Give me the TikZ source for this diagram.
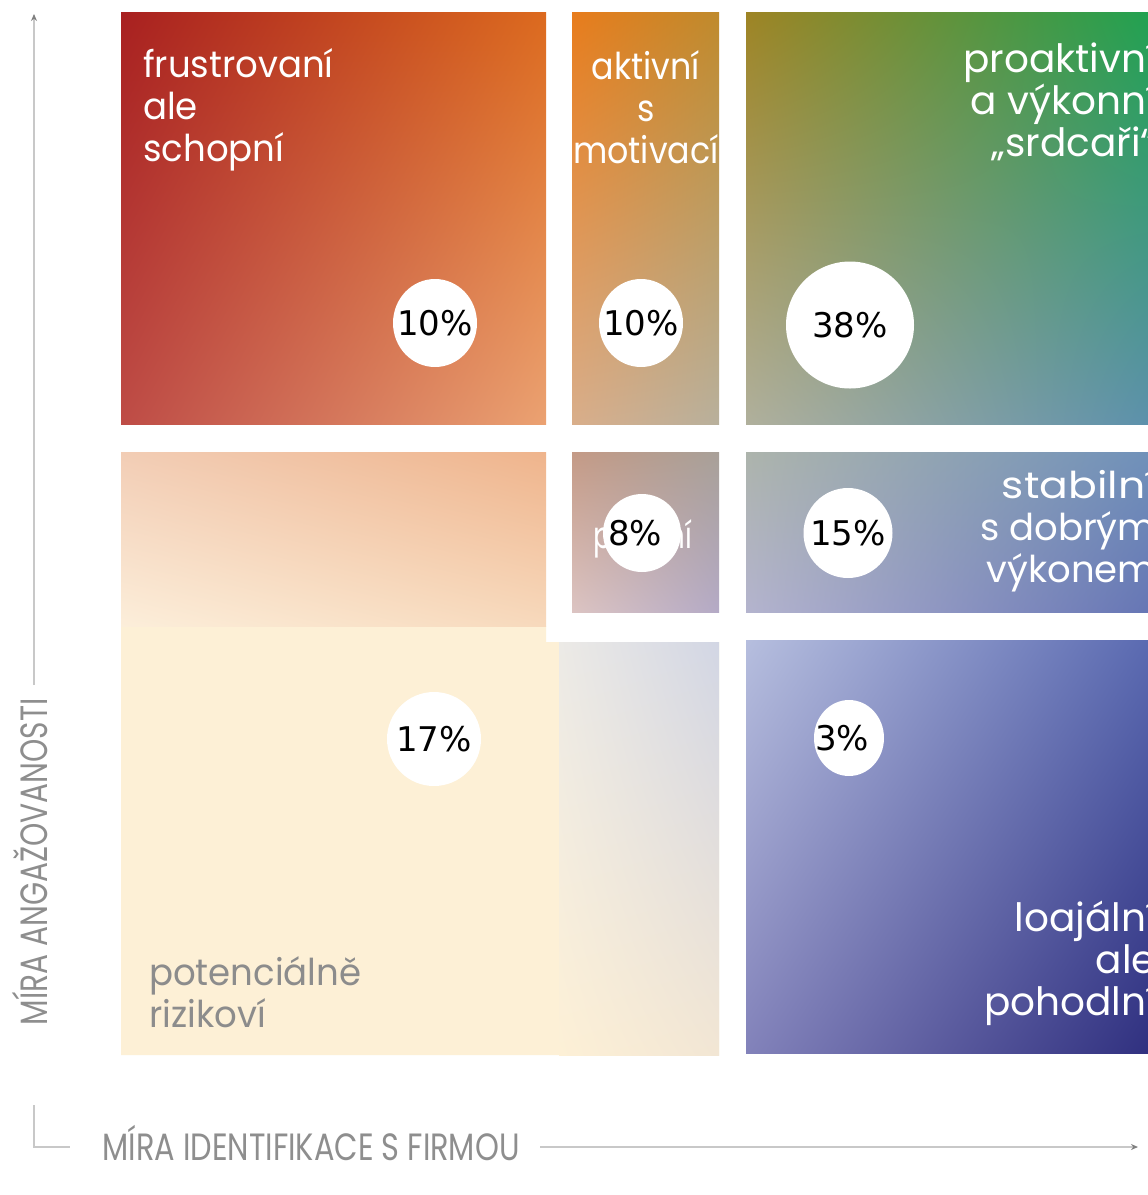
\documentclass[tikz,border=0pt]{standalone}
\usepackage{fontspec}
\setmainfont{Poppins}
\newfontfamily\pctfont{DejaVu Sans}
\usetikzlibrary{shapes.geometric,arrows.meta,shadings}
% cell colours
\definecolor{aTL}{HTML}{A82020}\definecolor{aTR}{HTML}{DC6A1E}
\definecolor{aBL}{HTML}{BE4C46}\definecolor{aBR}{HTML}{EBA272}
\definecolor{bTL}{HTML}{E87C1C}\definecolor{bTR}{HTML}{BF8A2C}
\definecolor{bBL}{HTML}{D9AE8A}\definecolor{bBR}{HTML}{B8B09C}
\definecolor{cTL}{HTML}{9E8424}\definecolor{cTR}{HTML}{1EA252}
\definecolor{cBL}{HTML}{B0B09C}\definecolor{cBR}{HTML}{5A90AC}
\definecolor{dTL}{HTML}{F2CDB5}\definecolor{dTR}{HTML}{EFB48C}
\definecolor{dBL}{HTML}{FCEEDA}\definecolor{dBR}{HTML}{F7D9BC}
\definecolor{eTL}{HTML}{C49A86}\definecolor{eTR}{HTML}{A8A098}
\definecolor{eBL}{HTML}{DCC4C2}\definecolor{eBR}{HTML}{B4AAC6}
\definecolor{fTL}{HTML}{ADB4AC}\definecolor{fTR}{HTML}{6E90BA}
\definecolor{fBL}{HTML}{B4B4CE}\definecolor{fBR}{HTML}{6474B4}
\definecolor{gTL}{HTML}{ECEAE6}\definecolor{gTR}{HTML}{D2D6E4}
\definecolor{gBL}{HTML}{FDF0D6}\definecolor{gBR}{HTML}{F2E6D4}
\definecolor{hTL}{HTML}{B6BEDE}\definecolor{hTR}{HTML}{5868B0}
\definecolor{hBL}{HTML}{8282BA}\definecolor{hBR}{HTML}{2E2E7E}
\definecolor{cream}{HTML}{FDF0D6}
\definecolor{axisgray}{HTML}{C8C8C8}
\definecolor{axistext}{HTML}{8E8E8E}
\definecolor{riskgray}{HTML}{8C8C8C}
\tikzset{
  quad/.style n args={4}{upper left=#1, upper right=#2, lower left=#3, lower right=#4},
  lbl/.style={font=\fontsize{37}{42}\selectfont, text=white, inner sep=0pt},
  bigl/.style={lbl, font=\fontsize{39}{42}\selectfont},
  pct/.style={ellipse, fill=white, inner sep=0pt, font=\pctfont\fontsize{34}{40}\selectfont, text=black},
  axlbl/.style={font=\fontsize{38}{40}\selectfont, text=axistext, inner sep=0pt},
  axisline/.style={draw=axisgray, line width=1.3pt},
  axistip/.style={-{Stealth[length=7pt,width=6pt,color=gray]}},
}
\newcommand\sx[2]{\scalebox{#1}[1]{#2}}
\newcommand\zb[1]{\makebox[0pt]{#1}}
\begin{document}
\begin{tikzpicture}[x=1pt,y=-1pt]
\useasboundingbox (0,0) rectangle (1148,1195);
\clip (0,0) rectangle (1148,1195);
\fill[white] (0,0) rectangle (1148,1195);
% cells
\shade[quad={aTL}{aTR}{aBL}{aBR}] (121,12) rectangle (546,424);
\shade[quad={bTL}{bTR}{bBL}{bBR}] (572,12) rectangle (719,424);
\shade[quad={cTL}{cTR}{cBL}{cBR}] (746,12) rectangle (1160,424);
\fill[cream] (121,626) -- (546,626) -- (546,642) -- (719,642) -- (719,1055) -- (121,1055) -- cycle;
\shade[quad={dTL}{dTR}{dBL}{dBR}] (121,452) rectangle (546,626);
\shade[quad={eTL}{eTR}{eBL}{eBR}] (572,452) rectangle (719,612);
\shade[quad={fTL}{fTR}{fBL}{fBR}] (746,452) rectangle (1160,612);
\shade[quad={gTL}{gTR}{gBL}{gBR}] (559,642) rectangle (719,1055);
\shade[quad={hTL}{hTR}{hBL}{hBR}] (746,640) rectangle (1160,1053);
% labels (base anchor = baseline of last line)
\node[lbl, align=left, anchor=base west] (frus) at (143,161) {\sx{0.96}{frustrovaní}\\\sx{0.96}{ale}\\\sx{0.96}{schopní}};
\node[lbl, align=center, anchor=base] (akt) at (646,163) {\sx{0.9}{aktivní}\\\sx{0.9}{s}\\\sx{0.9}{motivací}};
\node[bigl, align=right, anchor=base east] (pro) at (1156,156) {proaktivní\\a výkonní\\„srdcaři“};
\node[lbl, anchor=base] (pas) at (643,548) {\sx{0.75}{pasivní}};
\node[lbl, align=right, anchor=base east] (stab) at (1156,582) {\sx{1.15}{stabilní}\\s dobrým\\výkonem};
\node[bigl, align=right, anchor=base east] (loaj) at (1156,1015) {loajální\\ale\\pohodlní};
\node[lbl, text=riskgray, align=left, anchor=base west] (riz) at (149,1027) {\sx{0.96}{potenciálně}\\\sx{0.96}{rizikoví}};
% percentages
\node[pct, minimum width=84pt, minimum height=88pt] (p1) at (435,323) {\zb{10\%}};
\node[pct, minimum width=84pt, minimum height=88pt] (p2) at (641,323) {\zb{10\%}};
\node[pct, minimum width=128pt, minimum height=127pt] (p3) at (850,325) {\zb{38\%}};
\node[pct, minimum width=78pt, minimum height=78pt] (p4) at (642,533) {\zb{8\%\hspace*{14pt}}};
\node[pct, minimum width=89pt, minimum height=90pt] (p5) at (848,533) {\zb{15\%}};
\node[pct, minimum width=94pt, minimum height=94pt] (p6) at (434,739) {\zb{17\%}};
\node[pct, minimum width=70pt, minimum height=76pt] (p7) at (849,738) {\zb{3\%\hspace*{14pt}}};
% axes
\node[axlbl, rotate=90, anchor=base] (ylab) at (47,862) {\sx{0.78}{MÍRA ANGAŽOVANOSTI}};
\node[axlbl, anchor=base] (xlab) at (311,1160) {\sx{0.8}{MÍRA IDENTIFIKACE S FIRMOU}};
\coordinate (ystart) at (34,685);
\coordinate (ytop) at (34,14);
\coordinate (ybot) at (34,1105);
\coordinate (corner) at (34,1147);
\coordinate (xstart) at (70,1147);
\coordinate (xfrom) at (540,1147);
\coordinate (xtip) at (1138,1147);
\draw[axisline, axistip] (ystart) -- (ytop);
\draw[axisline] (ybot) -- (corner) -- (xstart);
\draw[axisline, axistip] (xfrom) -- (xtip);
\end{tikzpicture}
\end{document}
